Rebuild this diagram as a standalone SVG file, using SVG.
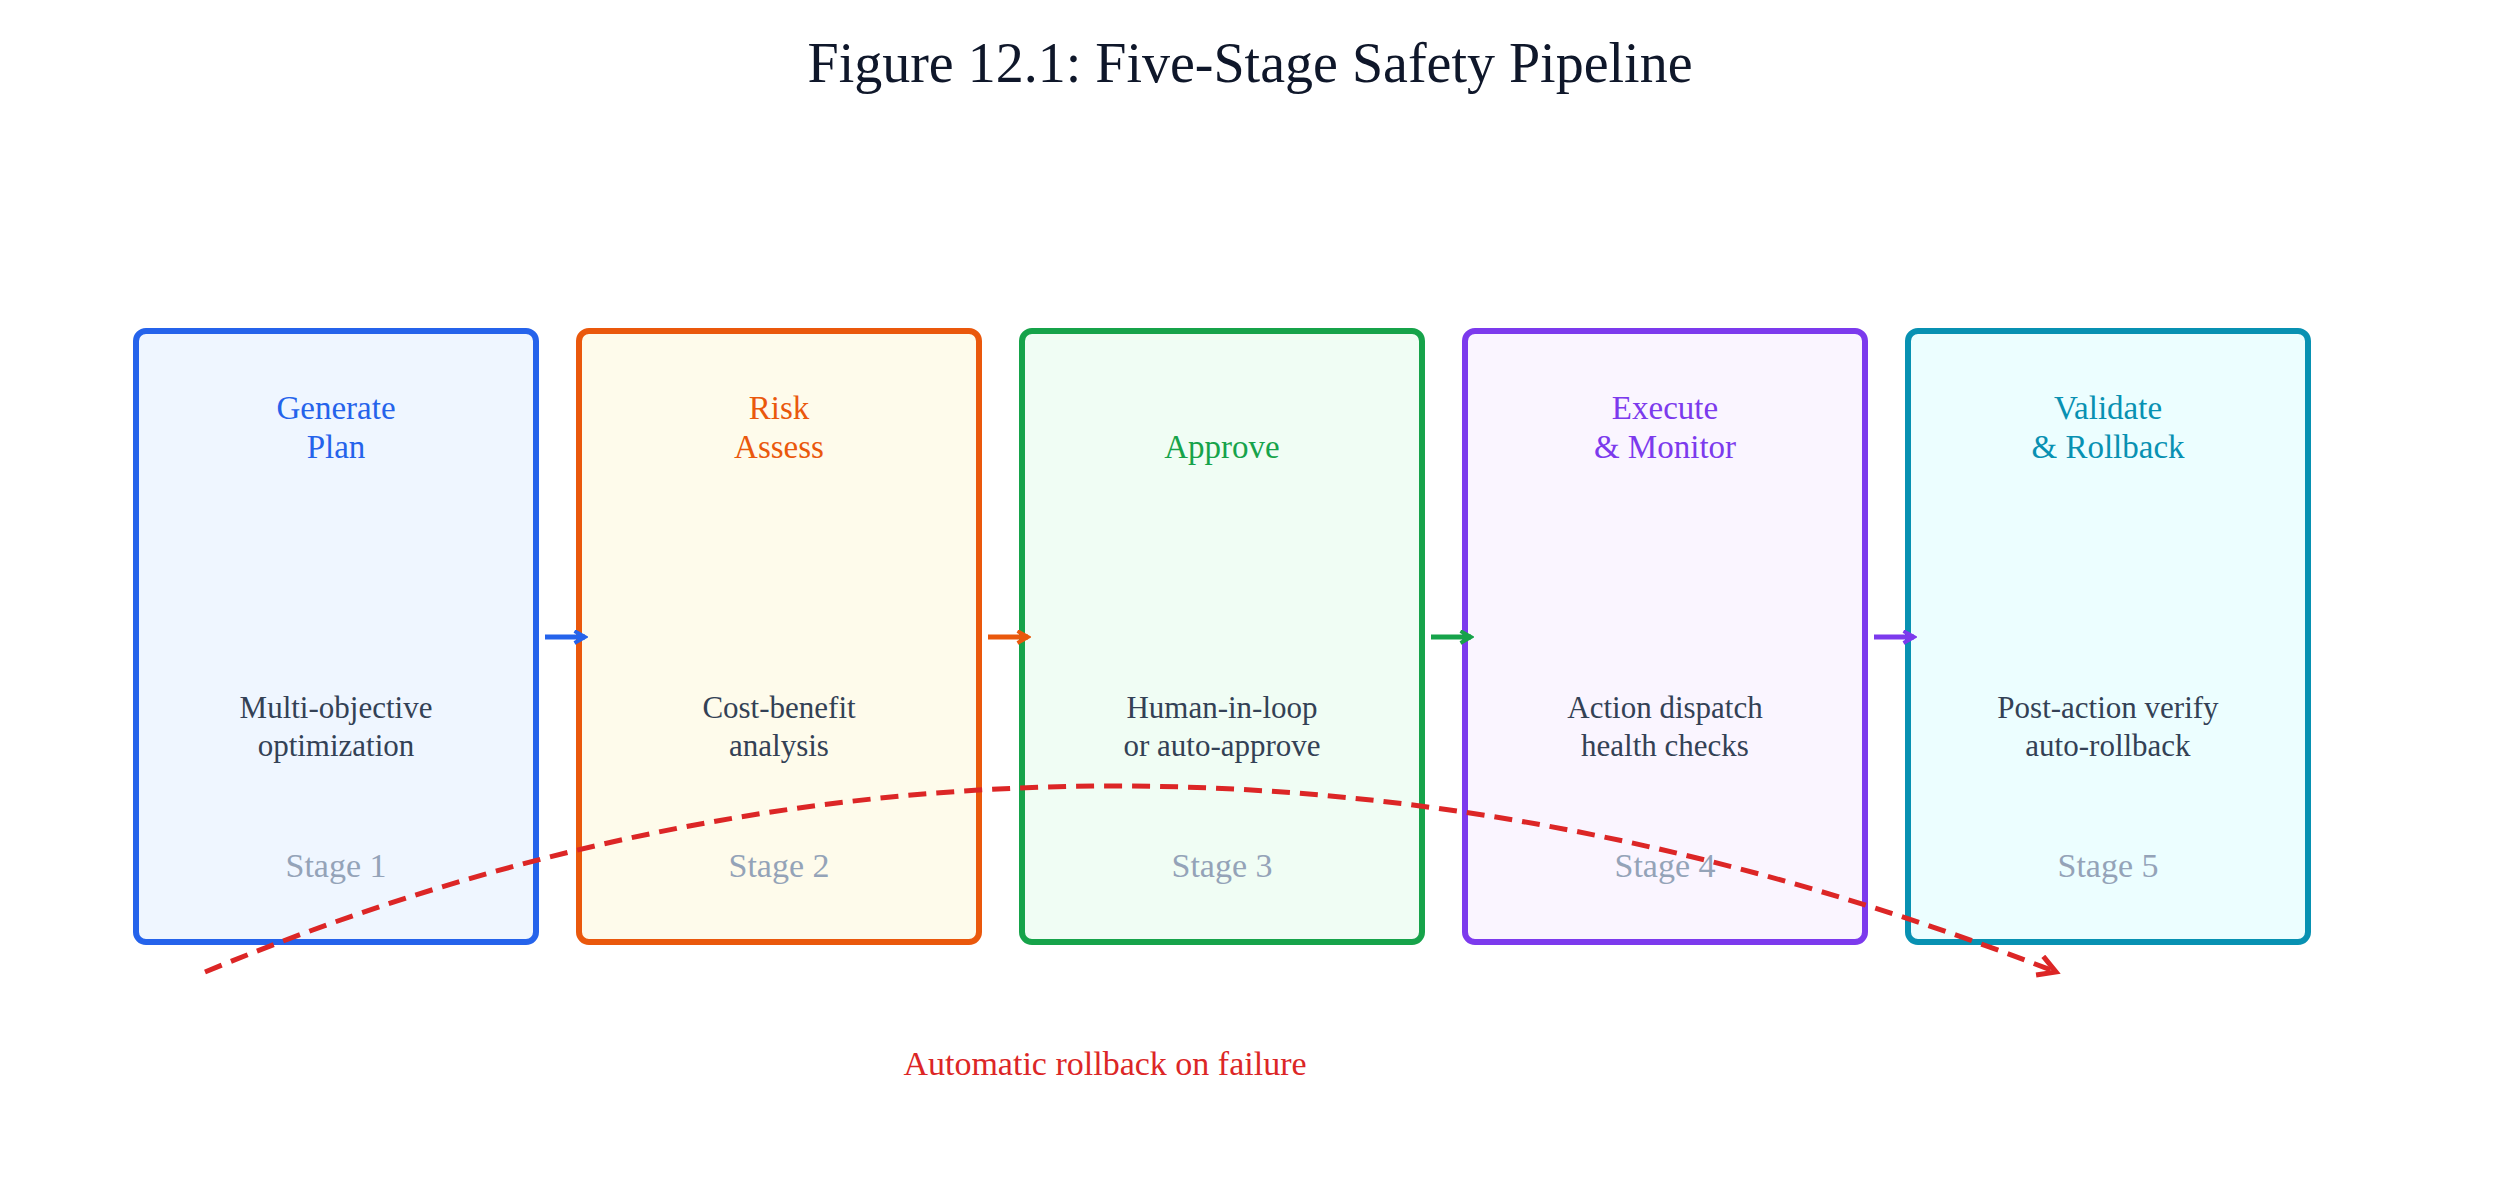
<svg xmlns="http://www.w3.org/2000/svg" width="2500" height="1182" viewBox="0 0 2500 1182">
<style>
text{font-family:"Liberation Serif","Times New Roman",serif;text-anchor:middle}
.box{stroke-width:6}
.t{font-size:33px}
.d{font-size:31px;fill:#334155}
.s{font-size:34px;fill:#94a3b8}
.c{stroke-width:5;fill:none}
</style>
<defs>
<marker id="mb" viewBox="0 0 10 10" refX="8" refY="5" markerWidth="3" markerHeight="3" orient="auto"><path d="M1,1 L8,5 L1,9" fill="none" stroke="#2563eb" stroke-width="2.5"/></marker>
<marker id="mo" viewBox="0 0 10 10" refX="8" refY="5" markerWidth="3" markerHeight="3" orient="auto"><path d="M1,1 L8,5 L1,9" fill="none" stroke="#ea580c" stroke-width="2.5"/></marker>
<marker id="mg" viewBox="0 0 10 10" refX="8" refY="5" markerWidth="3" markerHeight="3" orient="auto"><path d="M1,1 L8,5 L1,9" fill="none" stroke="#16a34a" stroke-width="2.5"/></marker>
<marker id="mp" viewBox="0 0 10 10" refX="8" refY="5" markerWidth="3" markerHeight="3" orient="auto"><path d="M1,1 L8,5 L1,9" fill="none" stroke="#7c3aed" stroke-width="2.5"/></marker>
<marker id="mr" viewBox="0 0 10 10" refX="8" refY="5" markerWidth="5" markerHeight="5" orient="auto"><path d="M1,1 L8,5 L1,9" fill="none" stroke="#dc2626" stroke-width="2"/></marker>
</defs>
<rect width="2500" height="1182" fill="#fff"/>
<text x="1250" y="82" font-size="56" fill="#0f172a">Figure 12.1: Five-Stage Safety Pipeline</text>
<g id="n1"><rect class="box" x="136" y="331" width="400" height="611" rx="10" fill="#eff6ff" stroke="#2563eb"/>
<text class="t" x="336" y="419" fill="#2563eb">Generate</text><text class="t" x="336" y="458" fill="#2563eb">Plan</text>
<text class="d" x="336" y="718">Multi-objective</text><text class="d" x="336" y="756">optimization</text>
<text class="s" x="336" y="877">Stage 1</text></g>
<g id="n2"><rect class="box" x="579" y="331" width="400" height="611" rx="10" fill="#fefbeb" stroke="#ea580c"/>
<text class="t" x="779" y="419" fill="#ea580c">Risk</text><text class="t" x="779" y="458" fill="#ea580c">Assess</text>
<text class="d" x="779" y="718">Cost-benefit</text><text class="d" x="779" y="756">analysis</text>
<text class="s" x="779" y="877">Stage 2</text></g>
<g id="n3"><rect class="box" x="1022" y="331" width="400" height="611" rx="10" fill="#f0fdf4" stroke="#16a34a"/>
<text class="t" x="1222" y="458" fill="#16a34a">Approve</text>
<text class="d" x="1222" y="718">Human-in-loop</text><text class="d" x="1222" y="756">or auto-approve</text>
<text class="s" x="1222" y="877">Stage 3</text></g>
<g id="n4"><rect class="box" x="1465" y="331" width="400" height="611" rx="10" fill="#faf5ff" stroke="#7c3aed"/>
<text class="t" x="1665" y="419" fill="#7c3aed">Execute</text><text class="t" x="1665" y="458" fill="#7c3aed">&amp; Monitor</text>
<text class="d" x="1665" y="718">Action dispatch</text><text class="d" x="1665" y="756">health checks</text>
<text class="s" x="1665" y="877">Stage 4</text></g>
<g id="n5"><rect class="box" x="1908" y="331" width="400" height="611" rx="10" fill="#ecfeff" stroke="#0891b2"/>
<text class="t" x="2108" y="419" fill="#0891b2">Validate</text><text class="t" x="2108" y="458" fill="#0891b2">&amp; Rollback</text>
<text class="d" x="2108" y="718">Post-action verify</text><text class="d" x="2108" y="756">auto-rollback</text>
<text class="s" x="2108" y="877">Stage 5</text></g>
<g id="connectors">
<line class="c" x1="545" y1="637" x2="585" y2="637" stroke="#2563eb" marker-end="url(#mb)"/>
<line class="c" x1="988" y1="637" x2="1028" y2="637" stroke="#ea580c" marker-end="url(#mo)"/>
<line class="c" x1="1431" y1="637" x2="1471" y2="637" stroke="#16a34a" marker-end="url(#mg)"/>
<line class="c" x1="1874" y1="637" x2="1914" y2="637" stroke="#7c3aed" marker-end="url(#mp)"/>
<path d="M205,972 Q1100,600 2056,972" fill="none" stroke="#dc2626" stroke-width="5" stroke-dasharray="18,10" marker-end="url(#mr)"/>
<text x="1105" y="1075" font-size="34" fill="#dc2626">Automatic rollback on failure</text>
</g>
</svg>
